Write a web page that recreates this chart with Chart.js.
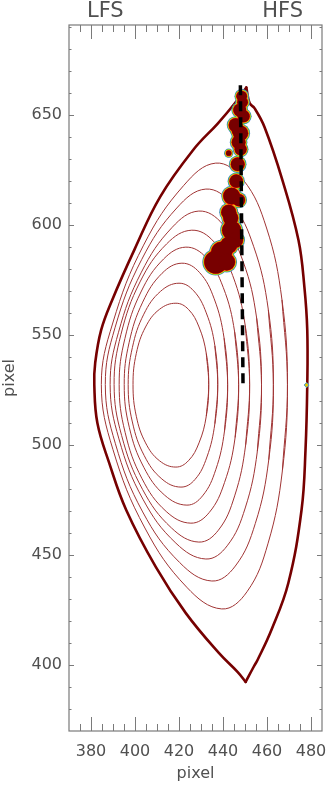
<!doctype html>
<html lang="en">
<head>
<meta charset="UTF-8">
<title>LFS / HFS flux surfaces</title>
<style>
  html, body { margin: 0; padding: 0; background: #fff; }
  #wrap { width: 327px; height: 785px; }
</style>
</head>
<body>
<div id="wrap"><canvas id="chart"></canvas></div>
<script src="https://cdn.jsdelivr.net/npm/chart.js@4.4.0/dist/chart.umd.min.js"></script>
<script>
// separatrix, split at the two X-points
const sepRight = [[450.6,662.6],[452.1,655.5],[454.3,653.2],[458.9,644.5],[467.0,620.5],[474.3,593.2],[477.0,571.8],[478.3,552.3],[478.3,527.3],[477.5,497.7],[475.7,470.5],[469.7,437.3],[462.0,415.9],[455.7,402.3],[453.9,399.1],[450.3,392.3]];
const sepLeft = [[450.3,392.3],[446.7,396.8],[438.1,405.5],[423.1,423.6],[409.5,444.5],[396.0,470.5],[388.3,491.8],[382.9,510.0],[381.5,527.3],[381.9,537.3],[384.6,552.3],[389.6,565.9],[399.8,589.0],[411.5,613.0],[426.7,634.5],[437.6,646.2],[445.3,655.3],[450.6,662.6]];

// closed flux surfaces, innermost first (first point repeated at the end)
const flux0 = [[433.5,527.5],[432.4,513.1],[429.1,501.0],[424.3,492.9],[418.6,490.0],[411.1,492.9],[404.8,501.0],[400.6,513.1],[399.1,527.5],[400.6,541.7],[404.8,553.7],[411.1,561.7],[418.6,564.5],[424.3,561.7],[429.1,553.7],[432.4,541.7],[433.5,527.5]];
const flux1 = [[437.6,527.5],[436.3,509.7],[432.7,494.6],[427.3,484.4],[420.9,480.9],[412.2,484.6],[404.2,495.2],[398.8,510.5],[396.9,527.5],[398.8,544.3],[404.0,559.5],[411.6,569.9],[420.0,573.6],[426.7,570.1],[432.4,560.1],[436.3,545.2],[437.6,527.5]];
const flux2 = [[442.1,527.5],[440.7,506.5],[436.7,488.8],[430.7,476.9],[423.6,472.7],[413.5,477.2],[404.0,489.9],[397.4,508.1],[395.1,527.5],[397.3,546.5],[403.5,565.0],[412.3,578.1],[421.3,582.7],[429.3,578.5],[436.0,566.5],[440.5,548.6],[442.1,527.5]];
const flux3 = [[447.1,527.5],[445.5,503.4],[440.7,483.0],[433.7,469.3],[425.4,464.5],[414.2,469.8],[403.2,484.7],[395.5,505.8],[392.8,527.5],[395.4,548.4],[402.7,569.6],[413.0,584.6],[423.1,590.0],[432.3,585.3],[440.1,571.7],[445.3,551.4],[447.1,527.5]];
const flux4 = [[452.1,527.5],[450.3,500.1],[445.3,476.9],[437.9,461.3],[429.0,455.9],[416.6,462.3],[403.4,479.9],[393.9,504.4],[390.5,527.5],[393.6,550.2],[402.3,574.2],[414.4,591.5],[425.8,597.7],[435.9,592.4],[444.4,577.1],[450.1,554.4],[452.1,527.5]];
const flux5 = [[457.5,527.5],[455.6,497.1],[450.1,471.4],[441.9,454.2],[432.2,448.2],[418.6,455.4],[403.6,475.4],[392.7,502.8],[388.7,527.5],[392.5,551.3],[402.9,578.6],[416.9,599.0],[429.0,606.4],[439.9,600.4],[449.2,583.3],[455.3,557.7],[457.5,527.5]];
const flux6 = [[462.9,527.5],[460.8,493.3],[454.7,464.4],[445.6,445.0],[434.9,438.2],[420.3,446.6],[403.5,469.6],[391.1,500.6],[386.5,527.5],[390.9,553.3],[403.0,584.3],[419.0,607.8],[432.2,616.4],[444.0,609.6],[453.9,590.4],[460.6,561.6],[462.9,527.5]];
const flux7 = [[469.3,527.5],[467.0,488.4],[460.5,455.4],[450.9,433.3],[439.4,425.5],[423.5,435.4],[404.5,462.3],[390.0,497.9],[384.7,527.5],[389.9,555.5],[403.9,590.9],[422.2,618.1],[436.7,628.2],[449.2,620.6],[459.8,598.7],[466.8,566.1],[469.3,527.5]];

// emission blobs (centre x, centre y, radius in x-axis units)
const blobX = [448.5,448.9,447.6,449.4,445.7,448.0,447.1,448.0,442.6,446.7,446.0,443.9,447.2,442.6,443.5,443.9,445.7,442.6,439.4,436.7,441.7,446.6];
const blobY = [658.6,655.9,652.3,649.5,645.5,641.8,637.7,634.5,632.7,627.7,620.0,613.2,611.4,605.9,603.2,597.7,593.2,590.9,587.7,583.2,583.2,643.0];
const blobR = [2.4,2.4,2.9,2.7,3.1,3.4,3.1,2.7,1.2,3.1,3.0,3.8,2.8,3.4,3.4,4.3,3.4,3.8,4.8,5.2,3.8,2.6];

// line of sight and the small marker on the wall
const losX = [447.9, 449.1];
const losY = [663.6, 527.3];
const markX = [478.0];
const markY = [527.3];

const xTicks = [380, 400, 420, 440, 460, 480];
const yTicks = [400, 450, 500, 550, 600, 650];

const toXY = arr => arr.map(p => ({x: p[0], y: p[1]}));
const blobs = blobX.map((x, i) => ({x: x, y: blobY[i]}));

function blobRadius(extra) {
    return c => {
        const s = c.chart.scales.x;
        return s.getPixelForValue(380 + blobR[c.dataIndex]) - s.getPixelForValue(380) + extra;
    };
}
function blobLayer(color, extra, order) {
    return {type: 'scatter', data: blobs, pointRadius: blobRadius(extra), pointBackgroundColor: color,
        pointBorderWidth: 0, pointHoverRadius: blobRadius(extra), order: order};
}
// closed curve: run one point past the seam on both sides so the spline has no corner there
function thin(arr) {
    const wrapped = [arr[arr.length - 2]].concat(arr, [arr[1]]);
    return {type: 'scatter', data: toXY(wrapped), showLine: true, borderColor: '#a03434', borderWidth: 1,
        pointRadius: 0, tension: 0.4, fill: false, order: 8};
}
function thick(arr) {
    return {type: 'scatter', data: toXY(arr), showLine: true, borderColor: '#760000', borderWidth: 2.6,
        pointRadius: 0, tension: 0.4, borderCapStyle: 'round', fill: false, order: 7};
}

const font = {family: 'DejaVu Sans', size: 16};
const textColor = '#505050';

const idlFrame = {
    id: 'idlFrame',
    afterDatasetsDraw(chart) {
        const {ctx, chartArea: a, scales: {x, y}} = chart;
        ctx.save();
        ctx.strokeStyle = '#7a7a7a';
        ctx.lineWidth = 1.2;
        ctx.strokeRect(a.left, a.top, a.right - a.left, a.bottom - a.top);
        ctx.lineWidth = 1;
        ctx.beginPath();
        for (let v = 375; v <= 484; v += 5) {
            const p = Math.round(x.getPixelForValue(v)) + 0.5;
            const len = v % 20 === 0 ? 14 : 7;
            ctx.moveTo(p, a.bottom); ctx.lineTo(p, a.bottom - len);
            ctx.moveTo(p, a.top); ctx.lineTo(p, a.top + len);
        }
        for (let v = 380; v <= 690; v += 10) {
            const p = Math.round(y.getPixelForValue(v)) + 0.5;
            const len = v % 50 === 0 ? 5 : 2.5;
            ctx.moveTo(a.left, p); ctx.lineTo(a.left + len, p);
            ctx.moveTo(a.right, p); ctx.lineTo(a.right - len, p);
        }
        ctx.stroke();
        // side labels above the plot
        ctx.fillStyle = textColor;
        ctx.font = '21px "DejaVu Sans"';
        ctx.textAlign = 'center';
        ctx.textBaseline = 'alphabetic';
        ctx.fillText('LFS', x.getPixelForValue(386.5), 17);
        ctx.fillText('HFS', x.getPixelForValue(467.1), 17);
        ctx.restore();
    }
};

new Chart(document.getElementById('chart'), {
    type: 'scatter',
    data: {
        datasets: [
            thick(sepRight), thick(sepLeft),
            thin(flux0), thin(flux1), thin(flux2), thin(flux3),
            thin(flux4), thin(flux5), thin(flux6), thin(flux7),
            blobLayer('#4a80e0', 2.0, 6),
            blobLayer('#3fbf3f', 1.5, 5),
            blobLayer('#f2e21a', 1.0, 4),
            blobLayer('#ff1e00', 0.5, 3),
            blobLayer('#780000', 0, 2),
            {type: 'scatter', data: losX.map((x, i) => ({x: x, y: losY[i]})), showLine: true,
                borderColor: '#000', borderWidth: 3.5, borderDash: [10, 6], pointRadius: 0, order: 1},
            {type: 'scatter', data: markX.map((x, i) => ({x: x, y: markY[i]})), pointStyle: 'rectRot',
                pointRadius: 2.5, pointBackgroundColor: '#e8c400', pointBorderColor: '#3a9ccf', pointBorderWidth: 1, order: 0}
        ]
    },
    options: {
        responsive: true,
        maintainAspectRatio: false,
        animation: false,
        events: [],
        layout: {padding: {top: 25, right: 4, left: 0, bottom: 0}},
        plugins: {legend: {display: false}, tooltip: {enabled: false}},
        scales: {
            x: {
                type: 'linear', min: 370, max: 485,
                grid: {display: false, drawTicks: false},
                border: {display: false},
                afterBuildTicks: s => { s.ticks = xTicks.map(v => ({value: v})); },
                afterFit: s => { s.height = 54; s.paddingLeft = 0; s.paddingRight = 0; },
                ticks: {font: font, color: textColor, padding: 11, maxRotation: 0},
                title: {display: true, text: 'pixel', font: font, color: textColor, padding: {top: 0, bottom: 2}}
            },
            y: {
                type: 'linear', min: 370, max: 691,
                grid: {display: false, drawTicks: false},
                border: {display: false},
                afterBuildTicks: s => { s.ticks = yTicks.map(v => ({value: v})); },
                afterFit: s => { s.width = 69; s.paddingTop = 0; s.paddingBottom = 0; },
                ticks: {font: font, color: textColor, padding: 7},
                title: {display: true, text: 'pixel', font: font, color: textColor, padding: {top: 0, bottom: 0}}
            }
        }
    },
    plugins: [idlFrame]
});
</script>
</body>
</html>
